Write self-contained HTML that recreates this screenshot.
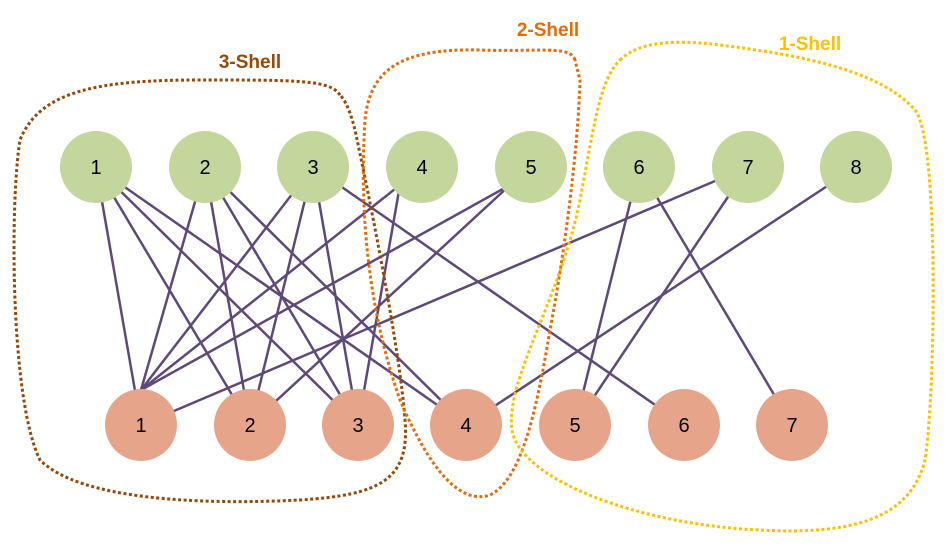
<!DOCTYPE html>
<html><head><meta charset="utf-8"><style>html,body{margin:0;padding:0;background:#fff}svg{display:block}</style></head>
<body>
<svg width="949" height="547" viewBox="0 0 949 547" xmlns="http://www.w3.org/2000/svg" font-family="Liberation Sans, sans-serif">
<g stroke="#5F497A" stroke-width="2.5" fill="none">
<line x1="96" y1="167" x2="141" y2="425"/>
<line x1="96" y1="167" x2="250" y2="425"/>
<line x1="96" y1="167" x2="358" y2="425"/>
<line x1="96" y1="167" x2="466" y2="425"/>
<line x1="205" y1="167" x2="141" y2="390"/>
<line x1="205" y1="167" x2="250" y2="425"/>
<line x1="205" y1="167" x2="358" y2="425"/>
<line x1="205" y1="167" x2="466" y2="425"/>
<line x1="313" y1="167" x2="141" y2="390"/>
<line x1="313" y1="167" x2="250" y2="425"/>
<line x1="313" y1="167" x2="358" y2="425"/>
<line x1="313" y1="167" x2="684" y2="425"/>
<line x1="400" y1="185" x2="141" y2="390"/>
<line x1="400" y1="185" x2="358" y2="425"/>
<line x1="510" y1="185" x2="141" y2="390"/>
<line x1="510" y1="185" x2="250" y2="425"/>
<line x1="639" y1="167" x2="575" y2="425"/>
<line x1="639" y1="167" x2="792" y2="425"/>
<line x1="748" y1="167" x2="141" y2="425"/>
<line x1="748" y1="167" x2="575" y2="425"/>
<line x1="856" y1="167" x2="466" y2="425"/>
</g>
<g fill="#C3D69B">
<circle cx="96" cy="167" r="36"/><circle cx="205" cy="167" r="36"/><circle cx="313" cy="167" r="36"/><circle cx="422" cy="167" r="36"/><circle cx="531" cy="167" r="36"/><circle cx="639" cy="167" r="36"/><circle cx="748" cy="167" r="36"/><circle cx="856" cy="167" r="36"/>
</g>
<g fill="#E6A58A">
<circle cx="141" cy="425" r="36"/><circle cx="250" cy="425" r="36"/><circle cx="358" cy="425" r="36"/><circle cx="466" cy="425" r="36"/><circle cx="575" cy="425" r="36"/><circle cx="684" cy="425" r="36"/><circle cx="792" cy="425" r="36"/>
</g>
<g font-size="20" text-anchor="middle" fill="#000">
<text x="96" y="174">1</text><text x="205" y="174">2</text><text x="313" y="174">3</text><text x="422" y="174">4</text><text x="531" y="174">5</text><text x="639" y="174">6</text><text x="748" y="174">7</text><text x="856" y="174">8</text>
<text x="141" y="432">1</text><text x="250" y="432">2</text><text x="358" y="432">3</text><text x="466" y="432">4</text><text x="575" y="432">5</text><text x="684" y="432">6</text><text x="792" y="432">7</text>
</g>
<g fill="none" stroke-width="3" stroke-dasharray="3 2.5">
<path stroke="#984807" d="M340,95 C 330,80 300,80 200,80 C 100,80 40,90 20,140 C 10,200 10,400 40,460 C 80,500 200,505 300,500 C 380,495 410,480 405,420 C 400,350 370,200 355,130 C 350,110 345,100 340,95 Z"/>
<path stroke="#E46C0A" d="M575,60 C 570,45 540,52 480,50 C 400,48 370,70 365,120 C 360,200 365,300 400,400 C 430,470 460,505 490,495 C 520,480 535,420 550,330 C 565,250 578,150 580,80 Z"/>
<path stroke="#FFC000" d="M620,60 C 640,40 680,40 720,45 C 800,55 880,70 915,110 C 940,140 935,400 925,460 C 910,520 850,535 760,530 C 640,525 520,480 512,430 C 505,380 560,300 580,200 C 595,120 600,80 620,60 Z"/>
</g>
<g font-size="19" font-weight="bold" text-anchor="middle">
<text x="250" y="68" fill="#984807">3-Shell</text>
<text x="548" y="36" fill="#E46C0A">2-Shell</text>
<text x="810" y="50" fill="#FFC000">1-Shell</text>
</g>
</svg>
</body></html>
